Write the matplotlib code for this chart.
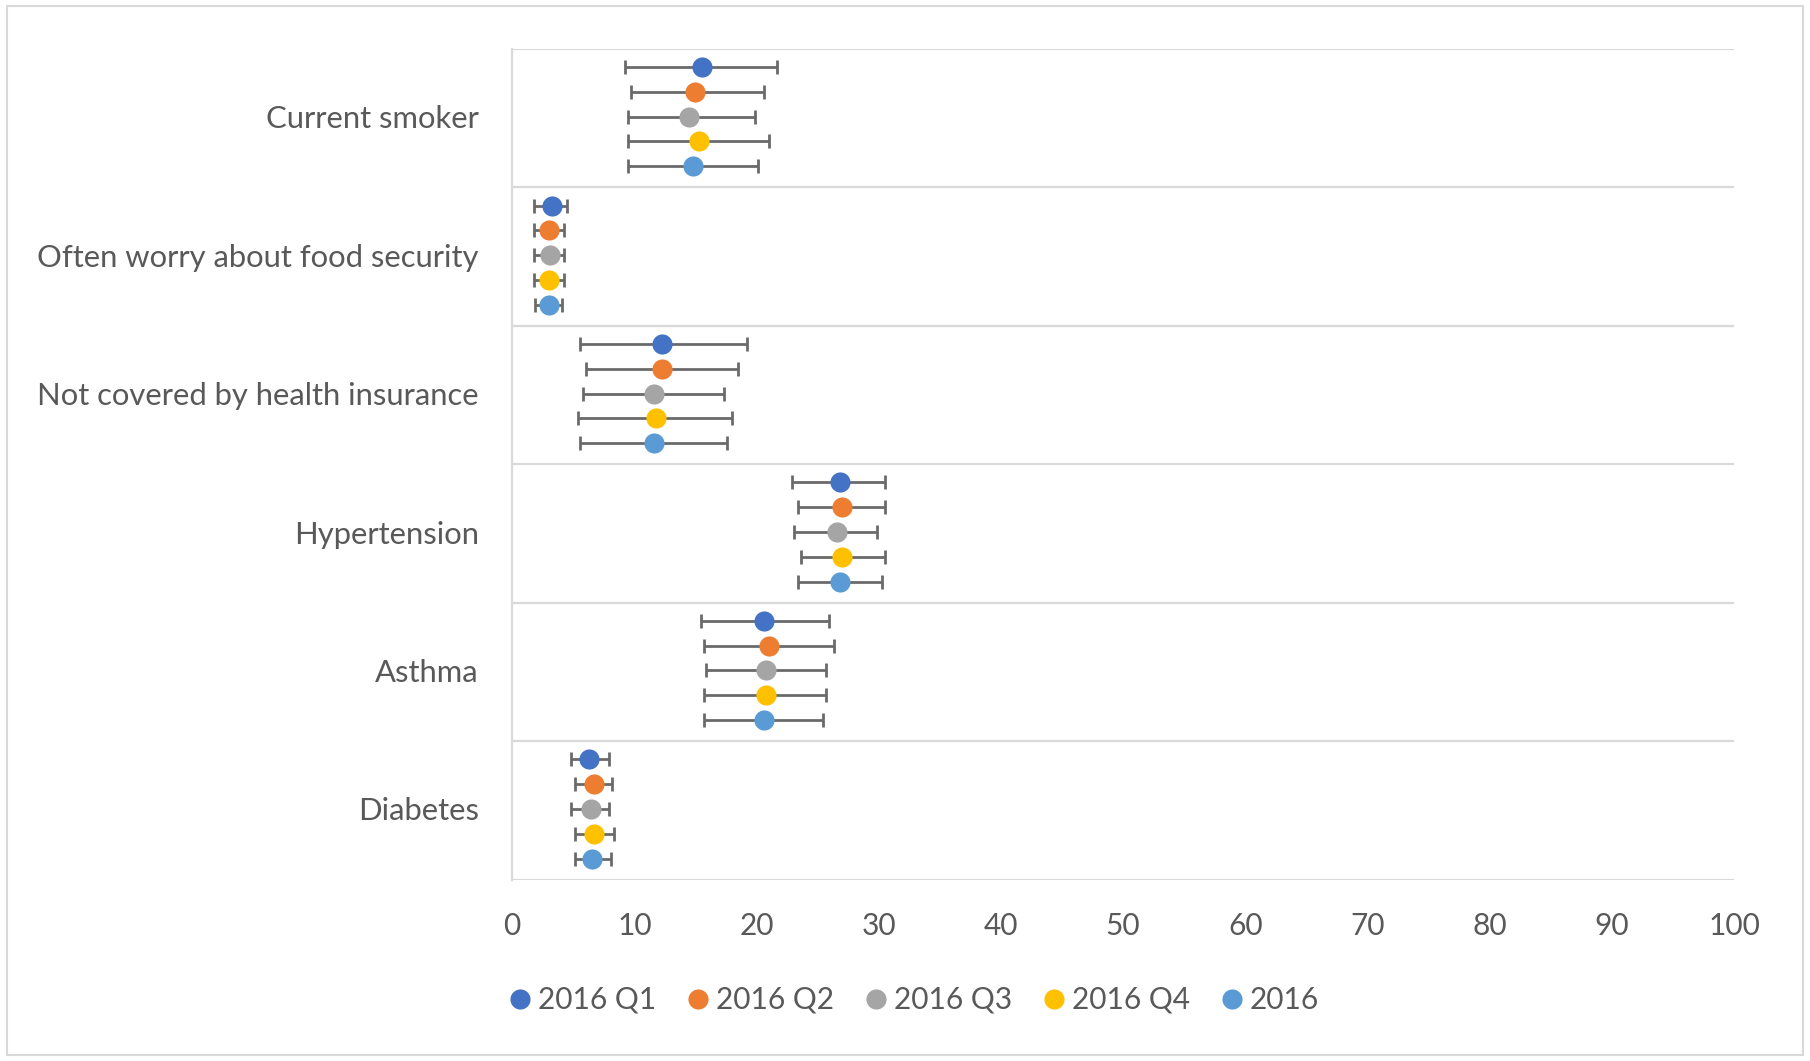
import matplotlib
matplotlib.use("Agg")
import matplotlib.pyplot as plt
from matplotlib.patches import Rectangle
import numpy as np

plt.rcParams['font.family'] = ['Lato', 'DejaVu Sans']

categories = ["Current smoker", "Often worry about food security",
              "Not covered by health insurance", "Hypertension", "Asthma", "Diabetes"]
series_names = ["2016 Q1", "2016 Q2", "2016 Q3", "2016 Q4", "2016"]
colors = ["#4472C4", "#ED7D31", "#A5A5A5", "#FFC000", "#5B9BD5"]

# estimates per series, in category order
q1_est = [15.5, 3.25, 12.25, 26.8, 20.6, 6.25]
q2_est = [15.0, 3.05, 12.25, 27.0, 21.0, 6.7]
q3_est = [14.5, 3.1, 11.6, 26.6, 20.8, 6.45]
q4_est = [15.25, 3.0, 11.8, 27.0, 20.8, 6.7]
y2016_est = [14.8, 3.05, 11.6, 26.8, 20.6, 6.5]

q1_lo = [9.25, 1.8, 5.55, 22.9, 15.45, 4.85]
q2_lo = [9.7, 1.8, 6.05, 23.35, 15.7, 5.1]
q3_lo = [9.5, 1.8, 5.8, 23.1, 15.9, 4.85]
q4_lo = [9.5, 1.8, 5.35, 23.6, 15.7, 5.1]
y2016_lo = [9.5, 1.85, 5.55, 23.35, 15.7, 5.1]

q1_hi = [21.7, 4.5, 19.2, 30.5, 25.9, 7.9]
q2_hi = [20.6, 4.2, 18.5, 30.5, 26.35, 8.2]
q3_hi = [19.9, 4.2, 17.35, 29.85, 25.7, 7.9]
q4_hi = [21.0, 4.2, 18.0, 30.5, 25.7, 8.35]
y2016_hi = [20.1, 4.05, 17.55, 30.3, 25.4, 8.1]

ests = [q1_est, q2_est, q3_est, q4_est, y2016_est]
los = [q1_lo, q2_lo, q3_lo, q4_lo, y2016_lo]
his = [q1_hi, q2_hi, q3_hi, q4_hi, y2016_hi]

fig = plt.figure(figsize=(18.10, 10.61), dpi=100)
ax = fig.add_axes([0.283, 0.171, 0.675, 0.783])

ncat = len(categories)
centers = np.arange(ncat) + 0.49
offsets = (np.arange(len(series_names)) - 2) * 0.179

for k, name in enumerate(series_names):
    est = np.array(ests[k]); lo = np.array(los[k]); hi = np.array(his[k])
    y = centers + offsets[k]
    ax.errorbar(est, y, xerr=[est - lo, hi - est], fmt='none', ecolor='#6A6A6A',
                elinewidth=2.0, capsize=5, capthick=2.0, zorder=2)
    ax.plot(est, y, 'o', color=colors[k], markersize=14.5, markeredgewidth=0,
            label=name, zorder=3)

ax.set_xlim(0, 100)
ax.set_ylim(ncat, 0)
ax.set_xticks(np.arange(0, 101, 10))
ax.set_yticks(centers)
ax.set_yticklabels(categories)
for b in range(ncat + 1):
    ax.axhline(b, color='#D9D9D9', lw=1.6, zorder=1)
for s in ['top', 'right', 'bottom']:
    ax.spines[s].set_visible(False)
ax.spines['left'].set_color('#D9D9D9')
ax.spines['left'].set_linewidth(1.6)
ax.tick_params(axis='both', length=0, colors='#595959')
ax.tick_params(axis='y', pad=24, labelsize=22.3)
ax.tick_params(axis='x', pad=23, labelsize=21.5)

fig.legend(loc='center left', bbox_to_anchor=(0.2644, 0.0575), ncol=5, frameon=False,
           fontsize=21.5, labelcolor='#595959', handletextpad=0.1, columnspacing=0.9,
           handlelength=1.0, markerscale=1.0)

fig.patches.append(Rectangle((0.004, 0.006), 0.992, 0.988, transform=fig.transFigure,
                             fill=False, edgecolor='#D9D9D9', lw=1.5))

fig.savefig("out.png", dpi=100)
